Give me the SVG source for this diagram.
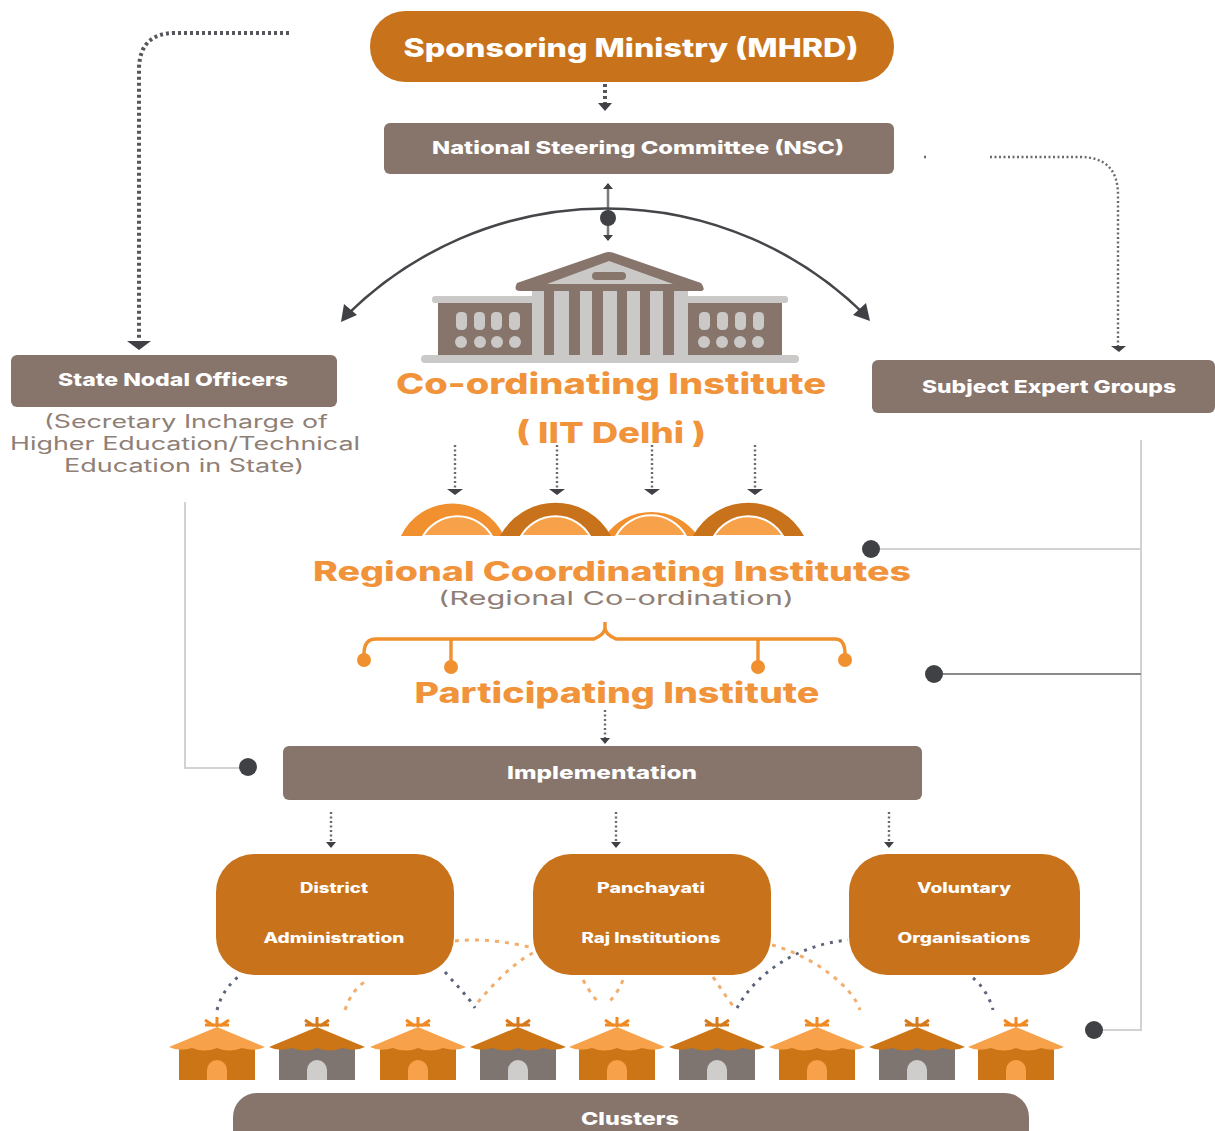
<svg xmlns="http://www.w3.org/2000/svg" width="1215" height="1131" viewBox="0 0 1215 1131">
<style>
text{font-family:Inter,"Liberation Sans",sans-serif;text-anchor:middle}
.w{fill:#fff;font-weight:800}
.o{fill:#f0933a;font-weight:800}
.g{fill:#8f7f76;font-weight:400}
.b{fill:#87756c}
.r{fill:#c8731c}
.gy{fill:#cbc9c7}
.dot{fill:none;stroke:#55555a;stroke-width:4;stroke-dasharray:3 3}
.thin{fill:none;stroke:#6a6a6e;stroke-width:2.4;stroke-dasharray:2 2.5}
.pale{fill:none;stroke:#d4d2d0;stroke-width:2}
.dk{fill:#3f4145}
.da{fill:none;stroke:#5b6478;stroke-width:3;stroke-dasharray:3 6}
.dao{fill:none;stroke:#f2ae6c;stroke-width:3;stroke-dasharray:4 6}
.curve{fill:none;stroke:#44464a;stroke-width:2.6}
.ob{fill:none;stroke:#f0902e;stroke-width:3.4}
.ow{fill:#f0902e}
.pal{fill:#f7a24a;stroke:#fff;stroke-width:2}
</style>
<defs>
<g id="hutA">
<path d="M-12 1020-3 1026M0 1017V1027M12 1020 3 1026M-12 1025H12" stroke="#f08a24" stroke-width="3" fill="none"/>
<rect x="-38" y="1044" width="76" height="36" fill="#cc7516"/>
<path d="M0 1027 48 1047Q38 1052 25 1048 12 1053 0 1048-12 1053-25 1048-38 1052-48 1047z" fill="#f7a24a"/>
<path d="M-10 1080V1070a10 10 0 0 1 20 0V1080z" fill="#f7a24a"/>
</g>
<g id="hutB">
<path d="M-12 1020-3 1026M0 1017V1027M12 1020 3 1026M-12 1025H12" stroke="#d67a1c" stroke-width="3" fill="none"/>
<rect x="-38" y="1044" width="76" height="36" fill="#7f7570"/>
<path d="M0 1027 48 1047Q38 1052 25 1048 12 1053 0 1048-12 1053-25 1048-38 1052-48 1047z" fill="#cc7516"/>
<path d="M-10 1080V1070a10 10 0 0 1 20 0V1080z" fill="#cfcdcb"/>
</g>
</defs>

<g id="connectors">
<path class="dot" d="M289 33H175Q139 33 139 70V340"/>
<path class="dk" d="M127 341h24l-12 9z"/>
<path class="dot" d="M605 84V104"/><path class="dk" d="M598 103h14l-7 8z"/>
<path class="thin" d="M924 157h4M990 157H1080Q1118 157 1118 195V346"/><path class="dk" d="M1111 346h15l-7 6z"/>
<path d="M608 188V236" stroke="#7a7a7c" stroke-width="2.5" fill="none"/>
<path class="dk" d="M603 189l5-6 5 6zM603 235l5 6 5-6z"/>
<circle class="dk" cx="608" cy="218" r="8"/>
<path class="curve" d="M346 316A368 368 0 0 1 866 316"/>
<path class="dk" d="M341 322 344 304 357 315zM870 321 866 303 853 315z"/>
<path class="thin" d="M455 445V488M557 445V488M652 445V488M755 445V488"/>
<path class="dk" d="M447 489h16l-8 6zM549 489h16l-8 6zM644 489h16l-8 6zM747 489h16l-8 6z"/>
<path class="thin" d="M605 710V738"/><path class="dk" d="M600 738h10l-5 6z"/>
<path class="thin" d="M331 812V843M616 812V843M889 812V843"/>
<path class="dk" d="M326 842h10l-5 6zM611 842h10l-5 6zM884 842h10l-5 6z"/>
<path class="pale" d="M185 502V768H240"/><circle class="dk" cx="248" cy="767" r="9"/>
<path class="pale" d="M1141 440V1030H1100"/>
<path class="pale" d="M1141 549H876"/><circle class="dk" cx="871" cy="549" r="9"/>
<path d="M1141 674H940" stroke="#8a8a8c" stroke-width="2" fill="none"/><circle class="dk" cx="934" cy="674" r="9"/>
<circle class="dk" cx="1094" cy="1030" r="9"/>
<path class="da" d="M217 1010C222 992 230 984 238 977"/>
<path class="dao" d="M345 1010C350 995 358 985 368 980"/>
<path class="da" d="M445 972C456 985 468 996 475 1008"/>
<path class="dao" d="M478 1002C495 982 515 962 533 953"/>
<path class="dao" d="M455 941C480 938 510 942 533 948"/>
<path class="dao" d="M583 980C590 992 595 1000 600 1003M623 980C618 992 612 1000 607 1003"/>
<path class="dao" d="M713 977C722 990 730 1003 735 1008"/>
<path class="da" d="M737 1008C755 975 795 945 848 940"/>
<path class="dao" d="M772 945C810 955 852 985 860 1010"/>
<path class="da" d="M973 978C982 985 990 998 993 1010"/>
</g>

<g id="sponsoring-ministry"><rect x="370" y="11" width="524" height="71" rx="35" fill="#c8731c"/><text class="w" x="631" y="57" font-size="26" textLength="455" lengthAdjust="spacingAndGlyphs">Sponsoring Ministry (MHRD)</text></g>
<g id="nsc"><rect class="b" x="384" y="123" width="510" height="51" rx="6"/><text class="w" x="638" y="154" font-size="18" textLength="412" lengthAdjust="spacingAndGlyphs">National Steering Committee (NSC)</text></g>

<g id="coordinating-institute">
<rect class="gy" x="432" y="296" width="356" height="7" rx="3"/>
<rect class="gy" x="421" y="355" width="378" height="8" rx="4"/>
<rect class="gy" x="532" y="290" width="156" height="66"/>
<rect class="b" x="438" y="303" width="94" height="52"/>
<rect class="b" x="688" y="303" width="94" height="52"/>
<g class="gy">
<rect x="456" y="312" width="11" height="18" rx="4.5"/><rect x="474" y="312" width="11" height="18" rx="4.5"/><rect x="491" y="312" width="11" height="18" rx="4.5"/><rect x="509" y="312" width="11" height="18" rx="4.5"/>
<circle cx="461" cy="342" r="6"/><circle cx="480" cy="342" r="6"/><circle cx="497" cy="342" r="6"/><circle cx="515" cy="342" r="6"/>
<rect x="699" y="312" width="11" height="18" rx="4.5"/><rect x="717" y="312" width="11" height="18" rx="4.5"/><rect x="735" y="312" width="11" height="18" rx="4.5"/><rect x="753" y="312" width="11" height="18" rx="4.5"/>
<circle cx="704" cy="342" r="6"/><circle cx="722" cy="342" r="6"/><circle cx="740" cy="342" r="6"/><circle cx="758" cy="342" r="6"/>
</g>
<g class="b"><rect x="544" y="288" width="10" height="67"/><rect x="569" y="288" width="11" height="67"/><rect x="592" y="288" width="11" height="67"/><rect x="617" y="288" width="10" height="67"/><rect x="640" y="288" width="10" height="67"/><rect x="663" y="288" width="11" height="67"/></g>
<path class="b" d="M604 253Q609 251 614 253L701 283Q707 291 700 291H520Q513 291 517 283z"/>
<path class="gy" d="M609 261 673 284H547z"/>
<rect class="b" x="592" y="272" width="34" height="8" rx="4"/>
<text class="o" x="611" y="394" font-size="29" textLength="430" lengthAdjust="spacingAndGlyphs">Co-ordinating Institute</text>
<text class="o" x="611" y="443" font-size="29" textLength="190" lengthAdjust="spacingAndGlyphs">( IIT Delhi )</text>
</g>

<g id="state-nodal-officers"><rect class="b" x="11" y="355" width="326" height="52" rx="6"/><text class="w" x="173" y="386" font-size="18" textLength="230" lengthAdjust="spacingAndGlyphs">State Nodal Officers</text>
<text class="g" x="186" y="428" font-size="18" textLength="284" lengthAdjust="spacingAndGlyphs">(Secretary Incharge of</text><text class="g" x="185" y="450" font-size="18" textLength="350" lengthAdjust="spacingAndGlyphs">Higher Education/Technical</text><text class="g" x="184" y="472" font-size="18" textLength="240" lengthAdjust="spacingAndGlyphs">Education in State)</text></g>

<g id="subject-expert-groups"><rect class="b" x="872" y="360" width="343" height="53" rx="6"/><text class="w" x="1049" y="393" font-size="18" textLength="254" lengthAdjust="spacingAndGlyphs">Subject Expert Groups</text></g>

<g id="regional-coordinating-institutes">
<path fill="#f0902e" d="M401 536A57 57 0 0 1 504 536H492A40 40 0 0 0 423 536z"/>
<path fill="#f0902e" d="M605 536A57 57 0 0 1 698 536H686A40 40 0 0 0 616 536z"/>
<path fill="#c8731c" d="M500 536A63 63 0 0 1 611 536H590A40 40 0 0 0 521 536z"/>
<path fill="#c8731c" d="M693 536A63 63 0 0 1 804 536H783A40 40 0 0 0 714 536z"/>
<path class="pal" d="M423 536A40 40 0 0 1 492 536z"/>
<path class="pal" d="M521 536A40 40 0 0 1 590 536z"/>
<path class="pal" d="M616 536A40 40 0 0 1 686 536z"/>
<path class="pal" d="M714 536A40 40 0 0 1 783 536z"/>
<rect x="395" y="536" width="415" height="4" fill="#fff"/>
<text class="o" x="612" y="581" font-size="27" textLength="598" lengthAdjust="spacingAndGlyphs">Regional Coordinating Institutes</text>
<text class="g" x="616" y="605" font-size="19" textLength="356" lengthAdjust="spacingAndGlyphs">(Regional Co-ordination)</text>
</g>

<g id="participating-institute">
<path class="ob" d="M605 622V628Q605 634 594 639H376Q364 639 364 654M605 628Q605 634 616 639H835Q845 639 845 654M451 639Q451 645 451 664M758 639Q758 645 758 664"/>
<circle class="ow" cx="364" cy="660" r="7"/><circle class="ow" cx="451" cy="667" r="7"/><circle class="ow" cx="758" cy="667" r="7"/><circle class="ow" cx="845" cy="660" r="7"/>
<text class="o" x="617" y="703" font-size="28" textLength="405" lengthAdjust="spacingAndGlyphs">Participating Institute</text>
</g>

<g id="implementation"><rect class="b" x="283" y="746" width="639" height="54" rx="6"/><text class="w" x="602" y="779" font-size="18" textLength="190" lengthAdjust="spacingAndGlyphs">Implementation</text></g>

<g id="district-administration"><rect class="r" x="216" y="854" width="238" height="121" rx="38"/><text class="w" x="334" y="893" font-size="14" textLength="68" lengthAdjust="spacingAndGlyphs">District</text><text class="w" x="334" y="943" font-size="14" textLength="141" lengthAdjust="spacingAndGlyphs">Administration</text></g>
<g id="panchayati-raj"><rect class="r" x="533" y="854" width="238" height="121" rx="38"/><text class="w" x="651" y="893" font-size="14" textLength="108" lengthAdjust="spacingAndGlyphs">Panchayati</text><text class="w" x="651" y="943" font-size="14" textLength="139" lengthAdjust="spacingAndGlyphs">Raj Institutions</text></g>
<g id="voluntary-organisations"><rect class="r" x="849" y="854" width="231" height="121" rx="38"/><text class="w" x="964" y="893" font-size="14" textLength="94" lengthAdjust="spacingAndGlyphs">Voluntary</text><text class="w" x="964" y="943" font-size="14" textLength="133" lengthAdjust="spacingAndGlyphs">Organisations</text></g>

<g id="huts">
<use href="#hutA" x="217"/><use href="#hutB" x="317"/><use href="#hutA" x="418"/><use href="#hutB" x="518"/><use href="#hutA" x="617"/><use href="#hutB" x="717"/><use href="#hutA" x="817"/><use href="#hutB" x="917"/><use href="#hutA" x="1016"/>
</g>

<g id="clusters"><rect class="b" x="233" y="1093" width="796" height="60" rx="24"/><text class="w" x="630" y="1125" font-size="18" textLength="98" lengthAdjust="spacingAndGlyphs">Clusters</text></g>
</svg>
